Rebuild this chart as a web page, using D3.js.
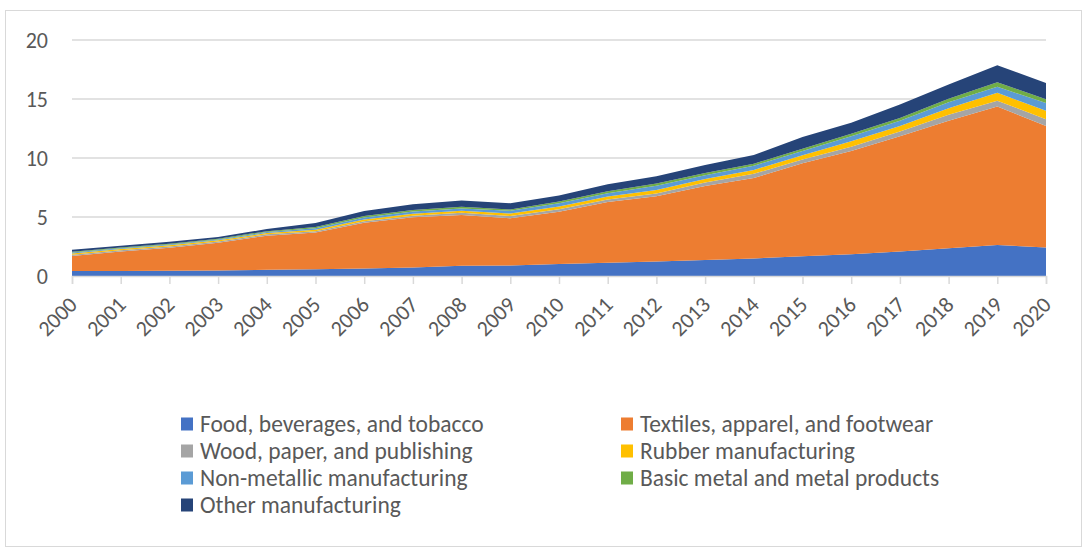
<!DOCTYPE html>
<html>
<head>
<meta charset="utf-8">
<script src="https://cdn.jsdelivr.net/npm/d3@7"></script>
<style>
  html, body { margin: 0; padding: 0; background: #fff; }
  svg { display: block; font-family: Carlito, Calibri, Lato, "Liberation Sans", Arial, sans-serif; }
</style>
</head>
<body>
<svg id="chart" width="1087" height="549"></svg>
<script>
// Years on the horizontal axis
const years = [2000, 2001, 2002, 2003, 2004, 2005, 2006, 2007, 2008, 2009, 2010,
               2011, 2012, 2013, 2014, 2015, 2016, 2017, 2018, 2019, 2020];

// Sector values per year (stacked bottom to top)
const food      = [0.43, 0.43, 0.44, 0.47, 0.52, 0.58, 0.63, 0.73, 0.87, 0.90, 1.02,
                   1.12, 1.23, 1.36, 1.49, 1.68, 1.84, 2.07, 2.36, 2.62, 2.42];
const textiles  = [1.27, 1.65, 1.96, 2.35, 2.90, 3.10, 3.89, 4.24, 4.31, 3.99, 4.43,
                   5.16, 5.53, 6.26, 6.81, 7.87, 8.76, 9.78, 10.79, 11.75, 10.29];
const wood      = [0.10, 0.10, 0.10, 0.10, 0.11, 0.12, 0.12, 0.13, 0.17, 0.19, 0.21,
                   0.20, 0.24, 0.30, 0.36, 0.32, 0.36, 0.40, 0.52, 0.49, 0.57];
const rubber    = [0.11, 0.10, 0.10, 0.10, 0.11, 0.13, 0.15, 0.17, 0.18, 0.22, 0.24,
                   0.26, 0.29, 0.29, 0.33, 0.36, 0.46, 0.47, 0.55, 0.66, 0.73];
const nonmetal  = [0.08, 0.08, 0.08, 0.08, 0.09, 0.12, 0.17, 0.19, 0.20, 0.22, 0.27,
                   0.28, 0.35, 0.32, 0.36, 0.36, 0.42, 0.43, 0.50, 0.52, 0.65];
const basic     = [0.06, 0.06, 0.06, 0.06, 0.07, 0.10, 0.13, 0.14, 0.14, 0.12, 0.14,
                   0.16, 0.19, 0.20, 0.16, 0.20, 0.22, 0.23, 0.30, 0.38, 0.31];
const other     = [0.17, 0.14, 0.16, 0.14, 0.18, 0.35, 0.42, 0.47, 0.53, 0.53, 0.51,
                   0.59, 0.63, 0.67, 0.75, 0.98, 0.93, 1.15, 1.20, 1.44, 1.38];

const seriesNames = ["Food, beverages, and tobacco", "Textiles, apparel, and footwear",
                     "Wood, paper, and publishing", "Rubber manufacturing",
                     "Non-metallic manufacturing", "Basic metal and metal products",
                     "Other manufacturing"];
const seriesValues = [food, textiles, wood, rubber, nonmetal, basic, other];
const seriesColors = ["#4472C4", "#ED7D31", "#A5A5A5", "#FFC000", "#5B9BD5", "#70AD47", "#264478"];

const yTicks = [0, 5, 10, 15, 20];

// Row objects for d3.stack
const rows = years.map((yr, i) => {
  const r = { year: yr };
  seriesNames.forEach((name, k) => { r[name] = seriesValues[k][i]; });
  return r;
});

const svg = d3.select("#chart");
const textColor = "#595959";
const gridColor = "#d9d9d9";
const fontStack = "Carlito, Calibri, Lato, 'Liberation Sans', Arial, sans-serif";

// Outer chart frame
svg.append("rect")
  .attr("x", 5.5).attr("y", 10.5)
  .attr("width", 1076).attr("height", 536)
  .attr("fill", "none").attr("stroke", gridColor).attr("stroke-width", 1);

const x = d3.scaleLinear().domain([years[0], years[years.length - 1]]).range([72, 1046]);
const y = d3.scaleLinear().domain([0, 20]).range([276, 40]);

// Horizontal gridlines
svg.append("g")
  .selectAll("line")
  .data(yTicks.filter(t => t > 0))
  .join("line")
  .attr("x1", x.range()[0]).attr("x2", x.range()[1])
  .attr("y1", d => y(d)).attr("y2", d => y(d))
  .attr("stroke", gridColor).attr("stroke-width", 1.5);

// Stacked areas
const stack = d3.stack().keys(seriesNames);
const layers = stack(rows);
const area = d3.area()
  .x(d => x(d.data.year))
  .y0(d => y(d[0]))
  .y1(d => y(d[1]));

svg.append("g")
  .selectAll("path")
  .data(layers)
  .join("path")
  .attr("d", area)
  .attr("fill", (d, i) => seriesColors[i]);

// Y axis labels
const yAxis = d3.axisLeft(y).tickValues(yTicks).tickSize(0).tickPadding(0);
const yg = svg.append("g").attr("transform", "translate(48,0)").call(yAxis);
yg.select(".domain").remove();
yg.selectAll("text")
  .attr("fill", textColor)
  .attr("font-size", 22)
  .attr("font-family", fontStack)
  .attr("dy", "0.35em");

// X axis with downward ticks and rotated year labels
const xAxis = d3.axisBottom(x).tickValues(years).tickFormat(d3.format("d")).tickSize(8).tickPadding(0);
const xg = svg.append("g").attr("transform", `translate(0,${y(0)})`).call(xAxis);
xg.select(".domain").attr("stroke", gridColor).attr("stroke-width", 1.5);
xg.selectAll(".tick line").attr("stroke", gridColor).attr("stroke-width", 1.5);
xg.selectAll("text")
  .attr("fill", textColor)
  .attr("font-size", 22)
  .attr("font-family", fontStack)
  .attr("text-anchor", "end")
  .attr("dy", 0)
  .attr("y", 0)
  .attr("transform", "translate(6,30) rotate(-45)");

// Legend in two columns
const legendCols = [181, 621];
const legendRows = [424, 451, 478, 505];
const legend = svg.append("g");
seriesNames.forEach((name, i) => {
  const cx = legendCols[i % 2];
  const cy = legendRows[Math.floor(i / 2)];
  legend.append("rect")
    .attr("x", cx).attr("y", cy - 6.5)
    .attr("width", 12).attr("height", 13)
    .attr("fill", seriesColors[i]);
  legend.append("text")
    .attr("x", cx + 19).attr("y", cy)
    .attr("dy", "0.35em")
    .attr("fill", textColor)
    .attr("font-size", 23.5)
    .attr("font-family", fontStack)
    .text(name);
});
</script>
</body>
</html>
